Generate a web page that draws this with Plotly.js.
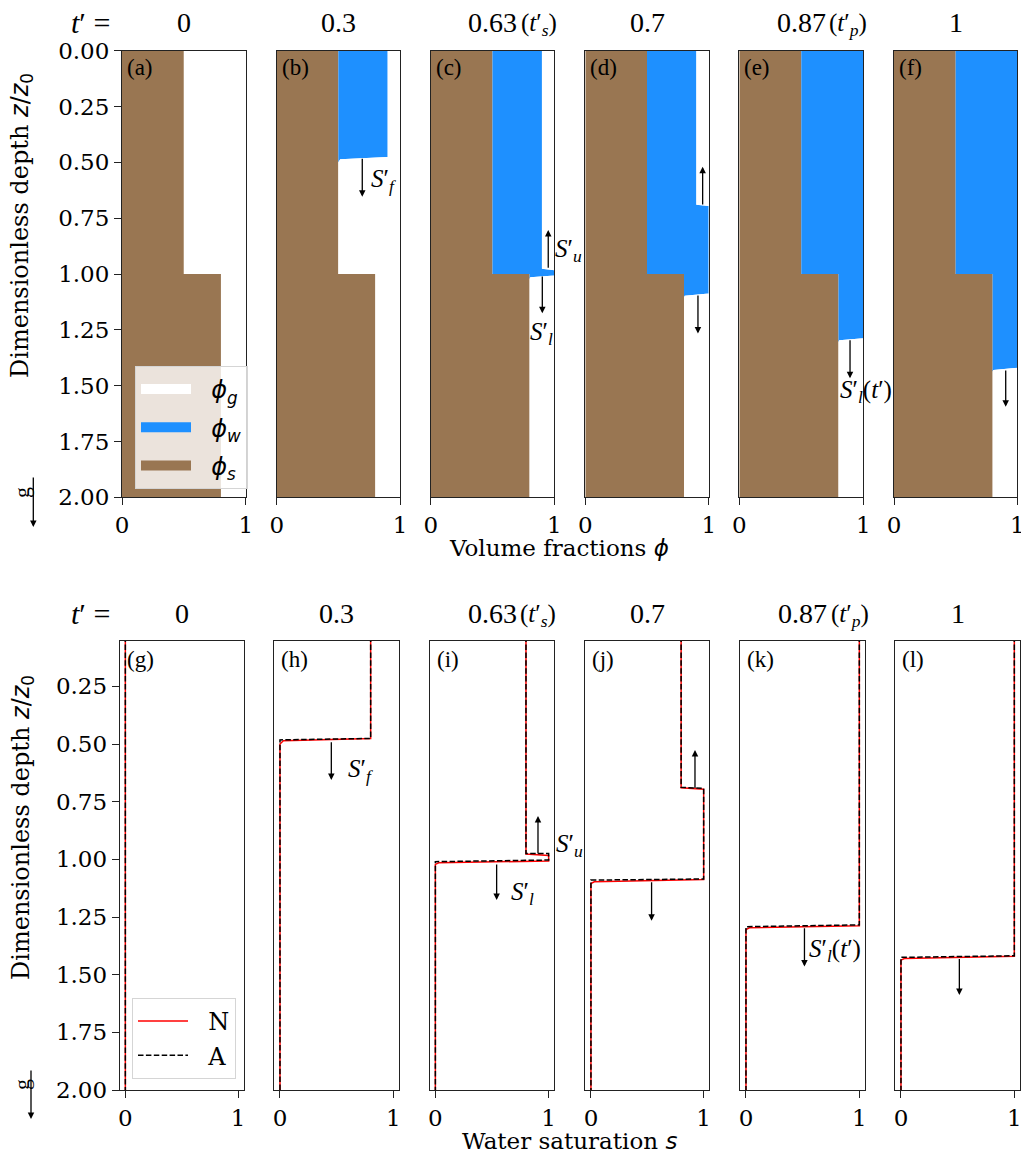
<!DOCTYPE html>
<html><head><meta charset="utf-8">
<script src="https://cdn.plot.ly/plotly-3.0.1.min.js"></script>
<style>html,body{margin:0;padding:0;background:#fff}</style>
</head><body><div id="chart" style="width:1021px;height:1157px"></div>
<script>
// ---------------- data ----------------
const timeLabels = ['0', '0.3', '0.63', '0.7', '0.87', '1'];
const timeTags = ['', '', 's', '', 'p', ''];
const topLetters = ['(a)', '(b)', '(c)', '(d)', '(e)', '(f)'];
const bottomLetters = ['(g)', '(h)', '(i)', '(j)', '(k)', '(l)'];
const layerPorosity = [0.5, 0.2];   // upper layer, lower layer
const interfaceDepth = 1.0;

// Numerical solution (N): depth z/z0 and water saturation s
const depthN_t0   = [0, 2];
const satN_t0     = [0, 0];
const depthN_t03  = [0, 0.476, 0.486, 0.5, 2];
const satN_t03    = [0.8, 0.8, 0.03, 0, 0];
const depthN_t063 = [0, 0.977, 0.983, 1.007, 1.015, 1.022, 2];
const satN_t063   = [0.8, 0.8, 1, 1, 0.03, 0, 0];
const depthN_t07  = [0, 0.69, 0.696, 1.087, 1.097, 1.105, 2];
const satN_t07    = [0.8, 0.8, 1, 1, 0.03, 0, 0];
const depthN_t087 = [0, 1.288, 1.297, 1.305, 2];
const satN_t087   = [1, 1, 0.03, 0, 0];
const depthN_t1   = [0, 1.42, 1.43, 1.437, 2];
const satN_t1     = [1, 1, 0.03, 0, 0];

// Analytical solution (A)
const depthA_t0   = [0, 2];
const satA_t0     = [0, 0];
const depthA_t03  = [0, 0.476, 0.482, 2];
const satA_t03    = [0.8, 0.8, 0, 0];
const depthA_t063 = [0, 0.975, 0.975, 1.003, 1.01, 2];
const satA_t063   = [0.8, 0.8, 1, 1, 0, 0];
const depthA_t07  = [0, 0.688, 0.692, 1.085, 1.09, 2];
const satA_t07    = [0.8, 0.8, 1, 1, 0, 0];
const depthA_t087 = [0, 1.284, 1.292, 2];
const satA_t087   = [1, 1, 0, 0];
const depthA_t1   = [0, 1.418, 1.425, 2];
const satA_t1     = [1, 1, 0, 0];

const depthN = [depthN_t0, depthN_t03, depthN_t063, depthN_t07, depthN_t087, depthN_t1];
const satN   = [satN_t0, satN_t03, satN_t063, satN_t07, satN_t087, satN_t1];
const depthA = [depthA_t0, depthA_t03, depthA_t063, depthA_t07, depthA_t087, depthA_t1];
const satA   = [satA_t0, satA_t03, satA_t063, satA_t07, satA_t087, satA_t1];

const depthTicks = [0, 0.25, 0.5, 0.75, 1.0, 1.25, 1.5, 1.75, 2.0];
const depthTickText = ['0.00', '0.25', '0.50', '0.75', '1.00', '1.25', '1.50', '1.75', '2.00'];

// ---------------- helpers ----------------
function volumeFractions(depths, sats) {
  const z = [], solid = [], water = [], gas = [];
  const push = (zz, s, phi) => { z.push(zz); solid.push(1 - phi); water.push(1 - phi + phi * s); gas.push(1); };
  for (let k = 0; k < depths.length; k++) {
    const zk = depths[k], sk = sats[k];
    if (k > 0 && depths[k - 1] < interfaceDepth && zk > interfaceDepth) {
      const f = (interfaceDepth - depths[k - 1]) / (zk - depths[k - 1]);
      const sI = sats[k - 1] + f * (sk - sats[k - 1]);
      push(interfaceDepth, sI, layerPorosity[0]);
      push(interfaceDepth, sI, layerPorosity[1]);
    }
    if (zk === interfaceDepth) { push(zk, sk, layerPorosity[0]); push(zk, sk, layerPorosity[1]); }
    else push(zk, sk, zk < interfaceDepth ? layerPorosity[0] : layerPorosity[1]);
  }
  return {z, solid, water, gas};
}

const BROWN = '#997652', BLUE = '#1E90FF';
const SERIF = 'DejaVu Serif, serif';
const SANS = 'DejaVu Sans, sans-serif';
const MATH = 'Liberation Serif, serif';
const W = 1021, H = 1157;
const topX = [[122, 245.7], [276.7, 400], [430.7, 554.3], [585.3, 708.7], [739.3, 863.3], [894, 1017.3]];
const botX = [[119.7, 243.7], [274.3, 399], [429.7, 554.3], [585.3, 709.3], [740.3, 865], [895.3, 1020]];
const topY = [1 - 497.3 / H, 1 - 50.7 / H];
const botY = [1 - 1090 / H, 1 - 640.7 / H];
const topRangeX = [0, 1], topRangeY = [2, 0];
const botRangeX = [-0.05, 1.05], botRangeY = [2, 0.052];

const traces = [];
const NB = '\u00a0\u00a0';
const layout = {
  width: W, height: H, margin: {l: 0, r: 0, t: 0, b: 0},
  paper_bgcolor: '#fff', plot_bgcolor: '#fff', showlegend: true,
  font: {family: SERIF, size: 23, color: '#000'},
  annotations: [],
  legend: {
    x: 135 / W, y: 1 - 366 / H, xanchor: 'left', yanchor: 'top',
    bgcolor: 'rgba(255,255,255,0.8)', bordercolor: '#d5d5d5', borderwidth: 1,
    font: {family: SANS, size: 24, color: '#000'}, itemwidth: 50,
    traceorder: 'grouped', tracegroupgap: 4
  },
  legend2: {
    x: 132 / W, y: 1 - 998 / H, xanchor: 'left', yanchor: 'top',
    bgcolor: 'rgba(255,255,255,0.8)', bordercolor: '#d5d5d5', borderwidth: 1,
    font: {family: SERIF, size: 24, color: '#000'}, itemwidth: 50,
    traceorder: 'grouped', tracegroupgap: 0
  }
};

function axisBase() {
  return {showline: true, mirror: true, linecolor: '#222', linewidth: 1, showgrid: false, zeroline: false,
    ticks: 'outside', ticklen: 7, tickwidth: 1, tickcolor: '#222', ticklabeloverflow: 'allow',
    tickfont: {family: SERIF, size: 23, color: '#000'}, fixedrange: true};
}

for (let i = 0; i < 6; i++) {
  const ti = i + 1, bi = i + 7;
  const xt = 'x' + (ti === 1 ? '' : ti), yt = 'y' + (ti === 1 ? '' : ti);
  const xb = 'x' + bi, yb = 'y' + bi;
  // ---------- top row: stacked volume fractions ----------
  const vf = volumeFractions(depthN[i], satN[i]);
  traces.push({type: 'scatter', mode: 'lines', x: vf.solid, y: vf.z, xaxis: xt, yaxis: yt, name: 'ϕs',
    fill: 'tozerox', fillcolor: BROWN, line: {width: 0, color: BROWN}, showlegend: false, hoverinfo: 'skip'});
  traces.push({type: 'scatter', mode: 'lines', x: vf.water, y: vf.z, xaxis: xt, yaxis: yt, name: 'ϕw',
    fill: 'tonextx', fillcolor: BLUE, line: {width: 0, color: BLUE}, showlegend: false, hoverinfo: 'skip'});
  traces.push({type: 'scatter', mode: 'lines', x: vf.gas, y: vf.z, xaxis: xt, yaxis: yt, name: 'ϕg',
    fill: 'tonextx', fillcolor: '#ffffff', line: {width: 0, color: '#ffffff'}, showlegend: false, hoverinfo: 'skip'});

  // ---------- bottom row: saturation profiles ----------
  traces.push({type: 'scatter', mode: 'lines', x: satN[i], y: depthN[i], xaxis: xb, yaxis: yb,
    name: NB + 'N', line: {color: 'red', width: 1.5}, showlegend: i === 0, legend: 'legend2', legendgroup: 'N', hoverinfo: 'skip'});
  traces.push({type: 'scatter', mode: 'lines', x: satA[i], y: depthA[i], xaxis: xb, yaxis: yb,
    name: NB + 'A', line: {color: 'black', width: 1.5, dash: '5.5px,2.4px'}, showlegend: i === 0, legend: 'legend2', legendgroup: 'A', hoverinfo: 'skip'});

  // axes
  const xa = axisBase(), ya = axisBase();
  xa.domain = [topX[i][0] / W, topX[i][1] / W]; xa.anchor = yt;
  xa.range = topRangeX; xa.tickvals = [0, 1]; xa.ticktext = ['0', '1'];
  ya.domain = topY; ya.anchor = xt; ya.range = topRangeY;
  if (i === 0) { ya.tickvals = depthTicks; ya.ticktext = depthTickText; }
  else { ya.showticklabels = false; ya.ticks = ''; }
  layout['xaxis' + (ti === 1 ? '' : ti)] = xa;
  layout['yaxis' + (ti === 1 ? '' : ti)] = ya;

  const xa2 = axisBase(), ya2 = axisBase();
  xa2.domain = [botX[i][0] / W, botX[i][1] / W]; xa2.anchor = yb;
  xa2.range = botRangeX; xa2.tickvals = [0, 1]; xa2.ticktext = ['0', '1'];
  ya2.domain = botY; ya2.anchor = xb; ya2.range = botRangeY;
  if (i === 0) { ya2.tickvals = depthTicks; ya2.ticktext = depthTickText; }
  else { ya2.showticklabels = false; ya2.ticks = ''; }
  layout['xaxis' + bi] = xa2;
  layout['yaxis' + bi] = ya2;

  // panel letters
  layout.annotations.push({xref: xt + ' domain', yref: yt + ' domain', x: 0.025, y: 0.995, xanchor: 'left', yanchor: 'top',
    text: topLetters[i], showarrow: false, font: {family: MATH, size: 23}});
  layout.annotations.push({xref: xb + ' domain', yref: yb + ' domain', x: 0.04, y: 0.99, xanchor: 'left', yanchor: 'top',
    text: bottomLetters[i], showarrow: false, font: {family: MATH, size: 23}});

  // time titles (number centred on the panel, tag appended on its right)
  [[topX[i], 22], [botX[i], 613]].forEach(([dom, py]) => {
    const cx = (dom[0] + dom[1]) / 2;
    layout.annotations.push({xref: 'paper', yref: 'paper', x: cx / W, y: 1 - py / H,
      xanchor: 'center', yanchor: 'middle', text: timeLabels[i], showarrow: false, font: {family: MATH, size: 28}});
    if (timeTags[i]) {
      layout.annotations.push({xref: 'paper', yref: 'paper', x: (cx + 26) / W, y: 1 - (py + 2) / H,
        xanchor: 'left', yanchor: 'middle', text: '(<i>t</i>′<sub><i>' + timeTags[i] + '</i></sub>)',
        showarrow: false, font: {family: MATH, size: 25}});
    }
  });
}

// legend entries for volume fractions (swatches)
const legendPhi = [['<i>ϕ</i><sub><i>g</i></sub>', '#ffffff'], ['<i>ϕ</i><sub><i>w</i></sub>', BLUE], ['<i>ϕ</i><sub><i>s</i></sub>', BROWN]];
legendPhi.forEach((p, k) => {
  traces.push({type: 'scatter', mode: 'lines', x: [null], y: [null], xaxis: 'x', yaxis: 'y', name: NB + p[0],
    line: {color: p[1], width: 18}, legend: 'legend', legendgroup: 'phi' + k, showlegend: true, hoverinfo: 'skip'});
});

// y titles
const yTitle = 'Dimensionless depth <span style="font-family:DejaVu Sans"><i>z</i>/<i>z</i><sub>0</sub></span>';
[226, 828].forEach(py => {
  layout.annotations.push({xref: 'paper', yref: 'paper', x: 22 / W, y: 1 - py / H, xanchor: 'center', yanchor: 'middle',
    text: yTitle, textangle: -90, showarrow: false, font: {family: SERIF, size: 24}});
});

// "t' =" row labels
[22, 613].forEach(py => {
  layout.annotations.push({xref: 'paper', yref: 'paper', x: 90 / W, y: 1 - py / H, xanchor: 'center', yanchor: 'middle',
    text: '<i>t</i>′ =', showarrow: false, font: {family: MATH, size: 30}});
});

// shared x titles
layout.annotations.push({xref: 'paper', yref: 'paper', x: 559 / W, y: 1 - 548 / H, xanchor: 'center', yanchor: 'middle',
  text: 'Volume fractions <span style="font-family:DejaVu Sans"><i>ϕ</i></span>', showarrow: false, font: {family: SERIF, size: 23}});
layout.annotations.push({xref: 'paper', yref: 'paper', x: 569 / W, y: 1 - 1141 / H, xanchor: 'center', yanchor: 'middle',
  text: 'Water saturation <span style="font-family:DejaVu Sans"><i>s</i></span>', showarrow: false, font: {family: SERIF, size: 23}});

// gravity indicators
[[493, 33.3, 476, 527], [1085, 31, 1069, 1119]].forEach(g => {
  layout.annotations.push({xref: 'paper', yref: 'paper', x: 21 / W, y: 1 - g[0] / H, xanchor: 'center', yanchor: 'middle',
    text: 'g', textangle: -90, showarrow: false, font: {family: MATH, size: 22}});
  layout.annotations.push({xref: 'paper', yref: 'paper', x: g[1] / W, y: 1 - g[3] / H, ax: g[1] / W, ay: 1 - g[2] / H,
    axref: 'paper', ayref: 'paper', text: '', showarrow: true, arrowhead: 2, arrowsize: 1, arrowwidth: 1.3, arrowcolor: '#000'});
});

// front arrows (head x,y ; tail x,y) per axis
function refs(ax) { return ['x' + (ax === 1 ? '' : ax), 'y' + (ax === 1 ? '' : ax)]; }
function arrow(ax, hx, hy, tx, ty) {
  const [xr, yr] = refs(ax);
  layout.annotations.push({xref: xr, yref: yr, x: hx, y: hy, axref: xr, ayref: yr, ax: tx, ay: ty, text: '',
    showarrow: true, arrowhead: 2, arrowsize: 1, arrowwidth: 1.3, arrowcolor: '#000'});
}
function label(ax, x, y, txt) {
  const [xr, yr] = refs(ax);
  const rx = ax <= 6 ? topRangeX : botRangeX, ry = ax <= 6 ? topRangeY : botRangeY;
  layout.annotations.push({xref: xr + ' domain', yref: yr + ' domain',
    x: (x - rx[0]) / (rx[1] - rx[0]), y: (y - ry[0]) / (ry[1] - ry[0]),
    xanchor: 'center', yanchor: 'middle', text: txt, showarrow: false, font: {family: MATH, size: 25}});
}
const Sf = '<i>S</i>′<sub><i>f</i></sub>', Su = '<i>S</i>′<sub><i>u</i></sub>', Sl = '<i>S</i>′<sub><i>l</i></sub>';
const Slt = '<i>S</i>′<sub><i>l</i></sub>(<i>t</i>′)';
arrow(2, 0.694, 0.654, 0.694, 0.477); label(2, 0.87, 0.58, Sf);
arrow(3, 0.951, 0.803, 0.951, 0.979); label(3, 1.113, 0.893, Su);
arrow(3, 0.903, 1.176, 0.903, 1.005); label(3, 0.898, 1.268, Sl);
arrow(4, 0.951, 0.52, 0.951, 0.695);
arrow(4, 0.913, 1.266, 0.913, 1.09);
arrow(5, 0.893, 1.467, 0.893, 1.29); label(5, 1.02, 1.524, Slt);
arrow(6, 0.906, 1.594, 0.906, 1.425);

arrow(8, 0.453, 0.656, 0.453, 0.486); label(8, 0.713, 0.613, Sf);
arrow(9, 0.906, 0.812, 0.906, 0.981); label(9, 1.184, 0.938, Su);
arrow(9, 0.541, 1.176, 0.541, 1.016); label(9, 0.767, 1.15, Sl);
arrow(10, 0.923, 0.526, 0.923, 0.697);
arrow(10, 0.538, 1.266, 0.538, 1.093);
arrow(11, 0.516, 1.465, 0.516, 1.292); label(11, 0.788, 1.397, Slt);
arrow(12, 0.515, 1.588, 0.515, 1.425);

Plotly.newPlot('chart', traces, layout, {displayModeBar: false, staticPlot: true});
</script>
</body></html>
